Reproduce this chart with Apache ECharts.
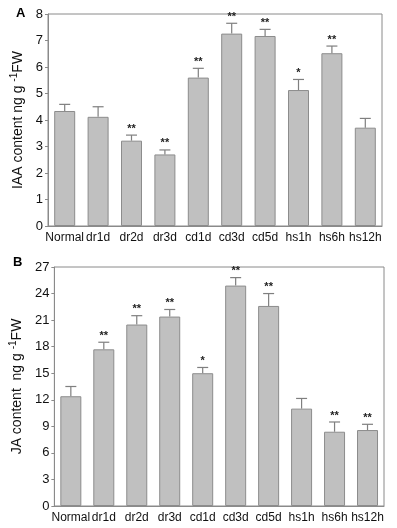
<!DOCTYPE html>
<html><head><meta charset="utf-8">
<script src="https://cdn.jsdelivr.net/npm/echarts@6/dist/echarts.min.js"></script>
<style>html,body{margin:0;padding:0;background:#fff}#c{width:397px;height:528px}</style>
</head><body><div id="c"></div>
<script>
const categories = ['Normal','dr1d','dr2d','dr3d','cd1d','cd3d','cd5d','hs1h','hs6h','hs12h'];
const iaaMean = [4.34,4.12,3.22,2.70,5.60,7.26,7.17,5.13,6.52,3.71];
const iaaErr  = [0.25,0.38,0.21,0.17,0.35,0.39,0.25,0.40,0.27,0.35];
const iaaSig  = ['','','**','**','**','**','**','*','**',''];
const jaMean = [12.4,17.7,20.5,21.4,15.0,24.9,22.6,11.0,8.39,8.58];
const jaErr  = [1.1,0.8,1.0,0.8,0.65,0.9,1.4,1.15,1.1,0.65];
const jaSig  = ['','**','**','**','*','**','**','','**','**'];

const FONT = '"Liberation Sans", Arial, sans-serif';
const chart = echarts.init(document.getElementById('c'));

function errData(mean, err, sig){ return mean.map((m,i)=>[i, m, m+err[i], sig[i]]); }
const errA = errData(iaaMean, iaaErr, iaaSig);
const errB = errData(jaMean, jaErr, jaSig);
function renderErr(params, api){
  const i = api.value(0);
  const p0 = api.coord([i, api.value(1)]);
  const p1 = api.coord([i, api.value(2)]);
  const data = params.seriesIndex === 1 ? errA : errB;
  const s = data[params.dataIndex][3];
  const st = {stroke:'#7f7f7f', lineWidth:1.2};
  const children = [
    {type:'line', shape:{x1:p0[0],y1:p0[1],x2:p1[0],y2:p1[1]}, style:st},
    {type:'line', shape:{x1:p1[0]-5.5,y1:p1[1],x2:p1[0]+5.5,y2:p1[1]}, style:st}
  ];
  if (s) children.push({type:'text', x:p1[0], y:p1[1]-1, style:{text:s, fill:'#222', font:'bold 11px '+FONT, align:'center', verticalAlign:'bottom'}});
  return {type:'group', children};
}

const axisLineStyle = {color:'#8a8a8a', width:1};
function xAxis(gi){
  return {type:'category', gridIndex:gi, data:categories, boundaryGap:true,
    axisLine:{lineStyle:axisLineStyle}, axisTick:{show:false},
    axisLabel:{color:'#111', fontSize:12, fontFamily:FONT, margin:6, interval:0}};
}
function yAxis(gi, max, interval, name){
  return {type:'value', gridIndex:gi, min:0, max:max, interval:interval,
    axisLine:{show:true, lineStyle:axisLineStyle}, axisTick:{show:true, length:3, lineStyle:axisLineStyle},
    splitLine:{show:false},
    axisLabel:{color:'#111', fontSize:13, fontFamily:FONT, margin:5},
    name:name, nameLocation:'middle', nameGap:21, nameRotate:90,
    nameTextStyle:{color:'#111', fontSize:14, fontFamily:FONT,
      rich:{sup:{fontSize:10, verticalAlign:'top', padding:[0,0,8,0], color:'#111', fontFamily:FONT}, n:{fontSize:14, color:'#111', fontFamily:FONT}}}
  };
}
const barStyle = {color:'#c0c0c0', borderColor:'#8c8c8c', borderWidth:1};

chart.setOption({
  animation:false,
  grid:[
    {left:48, top:14, right:15, height:212, show:true, borderColor:'#8a8a8a', borderWidth:1},
    {left:48, top:267, right:13, height:239, show:true, borderColor:'#8a8a8a', borderWidth:1}
  ],
  xAxis:[xAxis(0), xAxis(1)],
  yAxis:[
    yAxis(0, 8, 1, '{n|IAA content ng g }{sup|-1}{n|FW}'),
    yAxis(1, 27, 3, '{n|JA content  ng g }{sup|-1}{n|FW}')
  ],
  graphic:[
    {type:'text', left:16, top:7, style:{text:'A', font:'bold 13px '+FONT, fill:'#000'}},
    {type:'text', left:13, top:256, style:{text:'B', font:'bold 13px '+FONT, fill:'#000'}}
  ],
  series:[
    {type:'bar', xAxisIndex:0, yAxisIndex:0, data:iaaMean, barWidth:21, itemStyle:barStyle, z:2},
    {type:'custom', xAxisIndex:0, yAxisIndex:0, data:errA, renderItem:renderErr, encode:{x:0,y:[1,2]}, z:3},
    {type:'bar', xAxisIndex:1, yAxisIndex:1, data:jaMean, barWidth:21, itemStyle:barStyle, z:2},
    {type:'custom', xAxisIndex:1, yAxisIndex:1, data:errB, renderItem:renderErr, encode:{x:0,y:[1,2]}, z:3}
  ]
});
</script></body></html>
